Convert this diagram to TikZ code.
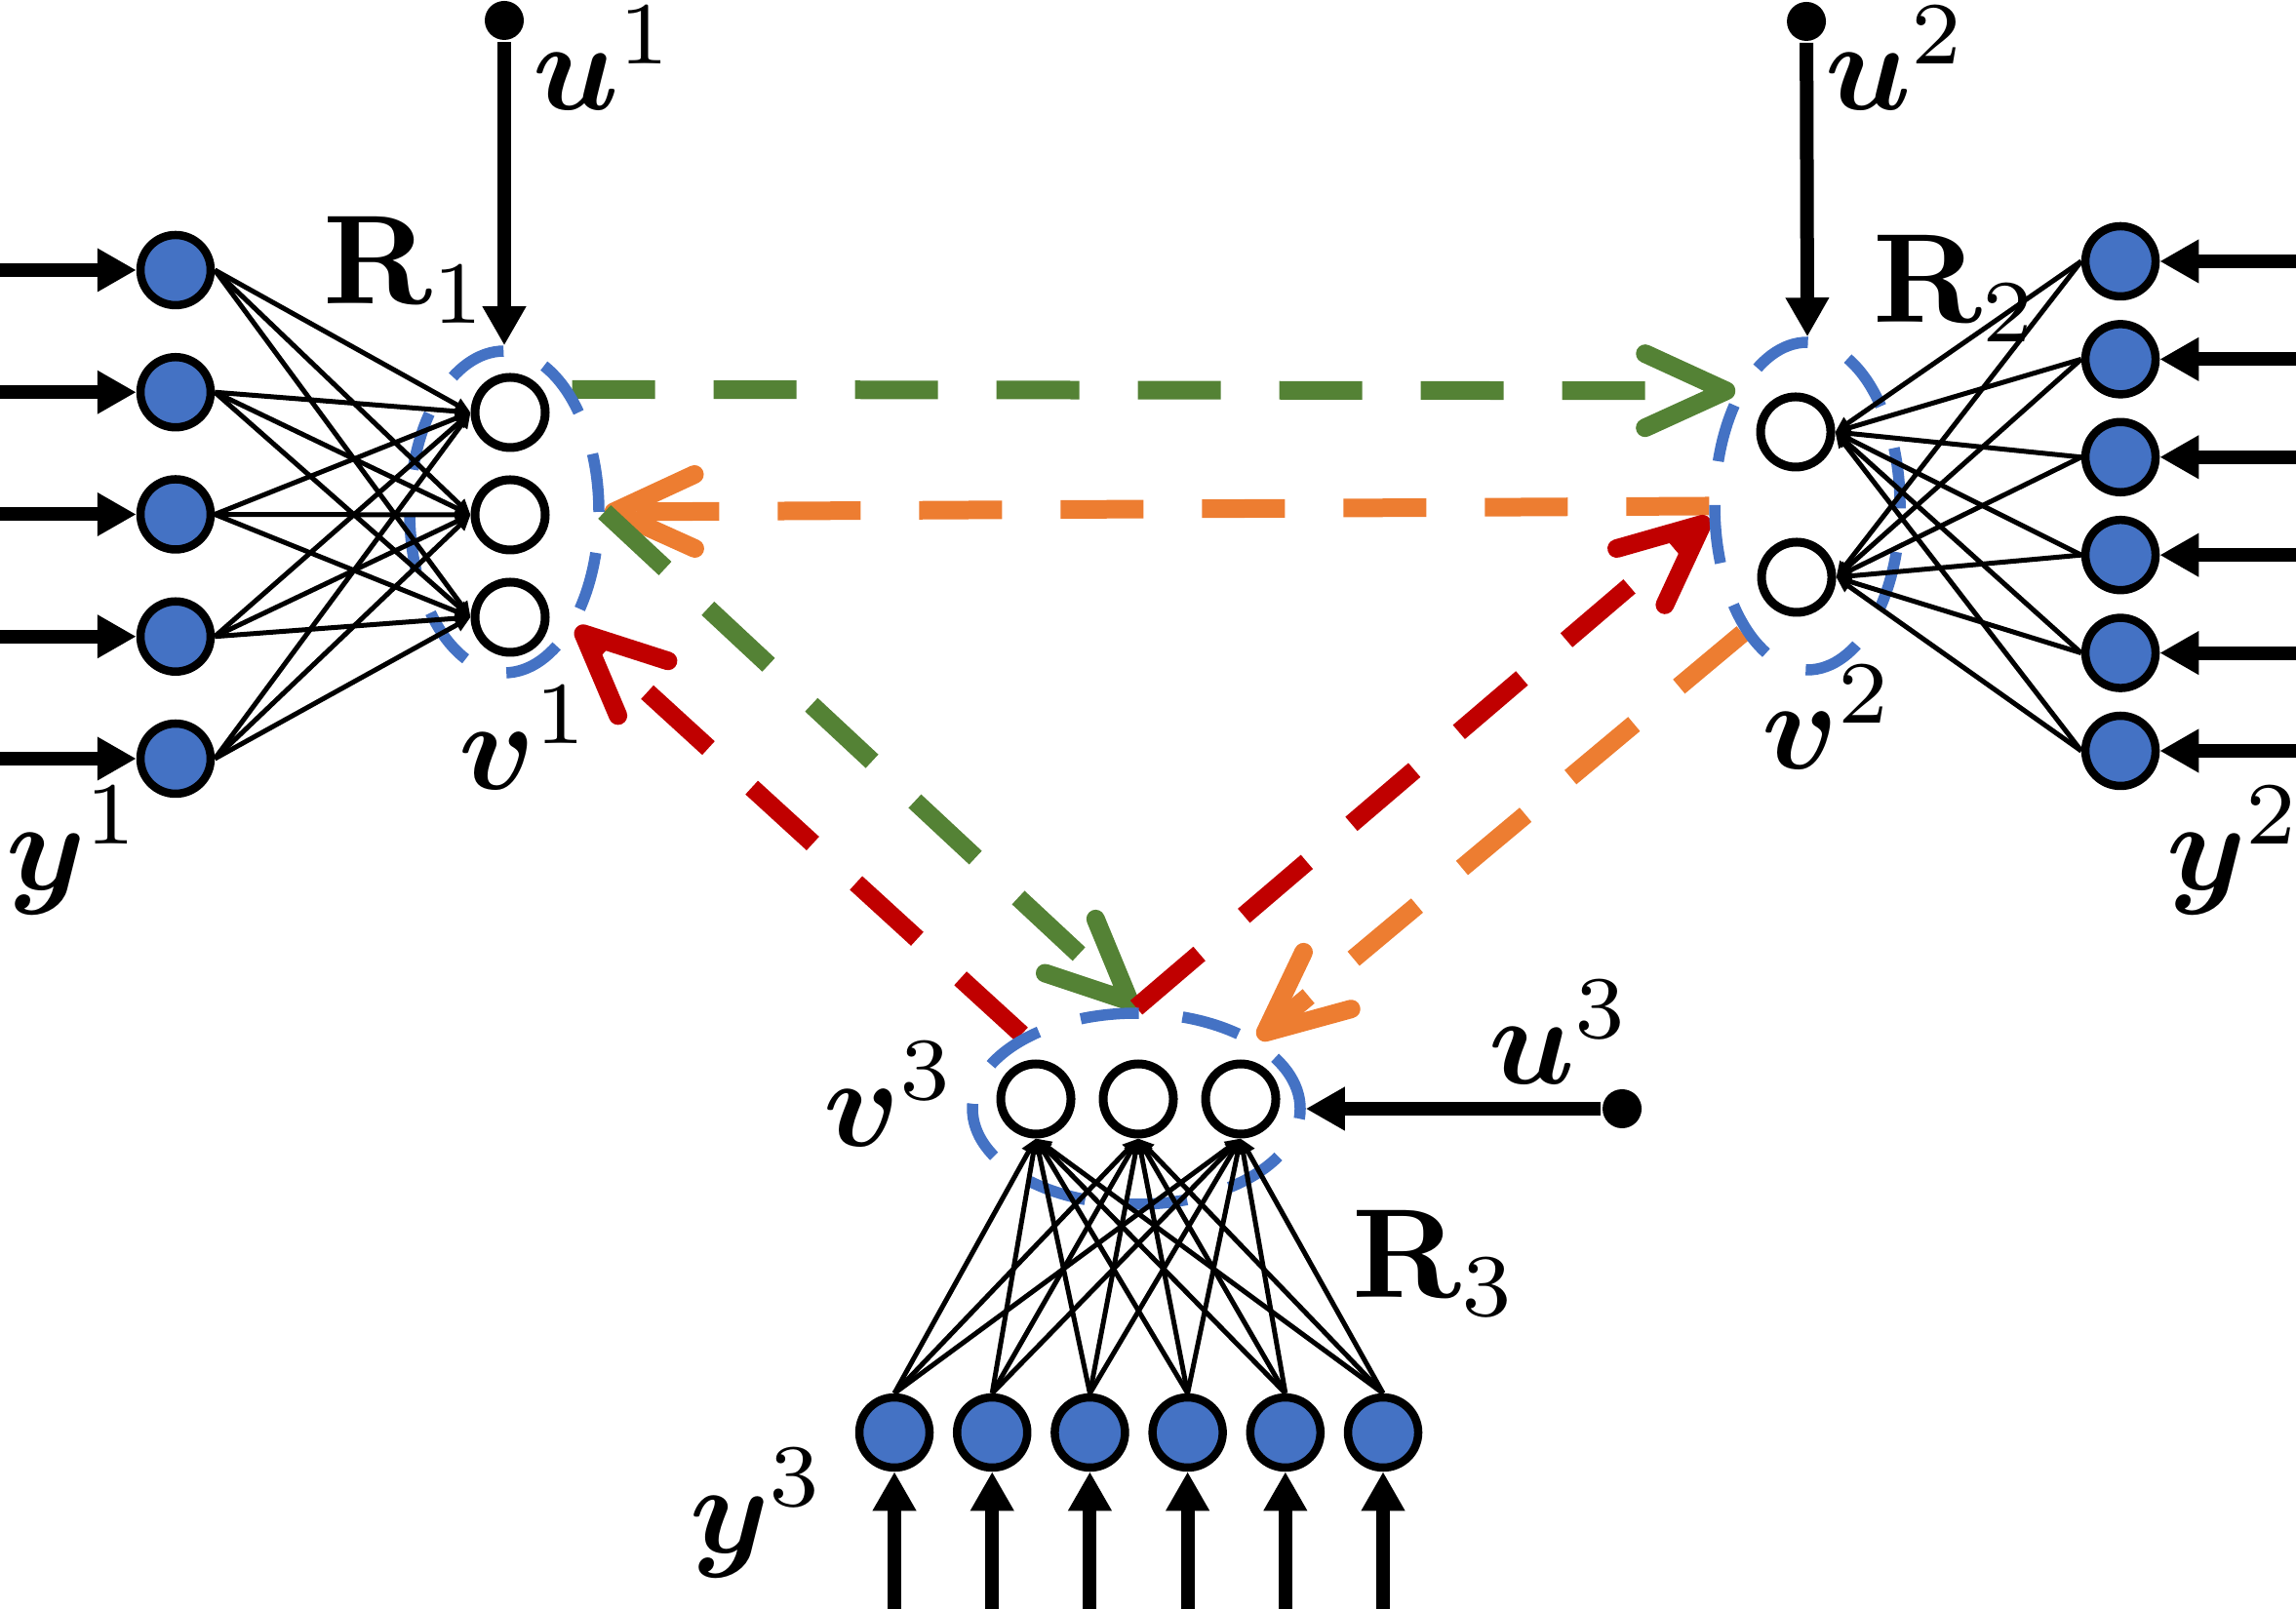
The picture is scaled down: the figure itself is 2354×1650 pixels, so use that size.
\documentclass[tikz,border=0pt]{standalone}
\usepackage{graphicx}
\usepackage{amsmath,bm}
\usetikzlibrary{arrows.meta,shapes.geometric}
\definecolor{nblue}{HTML}{4472C4}
\definecolor{cgreen}{HTML}{548235}
\definecolor{corange}{HTML}{ED7D31}
\definecolor{cred}{HTML}{C00000}
\pgfdeclarelayer{bg}
\pgfsetlayers{bg,main}
\newcommand{\mylabtext}[1]{\scalebox{1.3}{$#1$}}
\begin{document}
\begin{tikzpicture}[x=0.1pt,y=-0.1pt,
 inp/.style={circle,draw=black,fill=nblue,line width=0.85pt,minimum size=7.2pt,inner sep=0pt},
 outp/.style={circle,draw=black,fill=white,line width=0.9pt,minimum size=7.2pt,inner sep=0pt},
 grp/.style={ellipse,draw=nblue,line width=1.15pt,dash pattern=on 6pt off 4.5pt,inner sep=0pt},
 feed/.style={line width=1.4pt,-{Triangle[length=4pt,width=4.2pt]}},
 conn/.style={line width=0.5pt,-{Triangle[length=1.6pt,width=1.4pt]}},
 comm/.style={line width=1.9pt,dash pattern=on 8.5pt off 6pt,-{Straight Barb[length=8.3pt,width=7.6pt,round]}},
 dot/.style={circle,fill=black,minimum size=4pt,inner sep=0pt},
 lab/.style={inner sep=0pt,anchor=base west}
]
\useasboundingbox (0,0) rectangle (2354,1650);

% group ellipses
\node[grp,minimum width=19.4pt,minimum height=33pt] (e1) at (517,525) {};
\node[grp,minimum width=19pt,minimum height=33.6pt] (e2) at (1853,519) {};
\node[grp,minimum width=33.6pt,minimum height=19.6pt] (e3) at (1165,1137) {};

% left network
\foreach \i/\y in {1/277,2/402.25,3/527.5,4/652.75,5/778}{
  \node[inp] (a\i) at (180,\y) {};
  \coordinate (ia\i) at (0,\y);
}
\foreach \j/\y in {1/423,2/528,3/633}{
  \node[outp] (o\j) at (523,\y) {};
}
% right network
\foreach \i/\y in {1/268,2/368.4,3/468.8,4/569.2,5/669.6,6/770}{
  \node[inp] (b\i) at (2174,\y) {};
  \coordinate (ib\i) at (2354,\y);
}
\node[outp] (p1) at (1841,443) {};
\node[outp] (p2) at (1842,592) {};
% bottom network
\foreach \i/\x in {1/917,2/1017.2,3/1117.4,4/1217.6,5/1317.8,6/1418}{
  \node[inp] (c\i) at (\x,1469) {};
  \coordinate (ic\i) at (\x,1650);
}
\foreach \j/\x in {1/1062,2/1167,3/1272}{
  \node[outp] (q\j) at (\x,1127) {};
}

% connections
\foreach \i in {1,...,5}{
  \draw[feed] (ia\i) -- (a\i);
  \foreach \j in {1,2,3}{ \draw[conn] (a\i.east) -- (o\j.west); }
}
\foreach \i in {1,...,6}{
  \draw[feed] (ib\i) -- (b\i);
  \foreach \j in {1,2}{ \draw[conn] (b\i.west) -- (p\j.east); }
  \draw[feed] (ic\i) -- (c\i);
  \foreach \j in {1,2,3}{ \draw[conn] (c\i.north) -- (q\j.south); }
}

% external inputs u
\node[dot] (d1) at (517,21) {};
\node[dot] (d2) at (1852,22) {};
\node[dot] (d3) at (1663,1137) {};
\draw[feed] (d1) -- (e1.north);
\draw[feed] (d2) -- (e2.north);
\draw[feed] (d3) -- (e3.east);

% communication arrows
\begin{pgfonlayer}{bg}
\draw[comm,cgreen] (e1.61) -- (e2.122);
\draw[comm,corange] (e2.west) -- (e1.east);
\draw[comm,cgreen] (e1.east) -- (e3.north);
\draw[comm,cred] (e3.147) -- (e1.-58);
\draw[comm,cred] (e3.north) -- (e2.187);
\draw[comm,corange] (e2.243) -- (e3.30);
\end{pgfonlayer}

% labels
\node[lab] (lu1) at (544,113) {\mylabtext{\bm{u}^1}};
\node[lab] (lu2) at (1869,113) {\mylabtext{\bm{u}^2}};
\node[lab] (lu3) at (1524,1112) {\mylabtext{\bm{u}^3}};
\node[lab] (ly1) at (4,913) {\mylabtext{\bm{y}^1}};
\node[lab] (ly2) at (2219,913) {\mylabtext{\bm{y}^2}};
\node[lab] (ly3) at (705,1592) {\mylabtext{\bm{y}^3}};
\node[lab] (lv1) at (468,810) {\mylabtext{\bm{v}^1}};
\node[lab] (lv2) at (1804,789) {\mylabtext{\bm{v}^2}};
\node[lab] (lv3) at (842,1175) {\mylabtext{\bm{v}^3}};
\node[lab] (lr1) at (329,312) {\mylabtext{\mathbf{R}_1}};
\node[lab] (lr2) at (1918,331) {\mylabtext{\mathbf{R}_2}};
\node[lab] (lr3) at (1384,1330) {\mylabtext{\mathbf{R}_3}};
\end{tikzpicture}
\end{document}
